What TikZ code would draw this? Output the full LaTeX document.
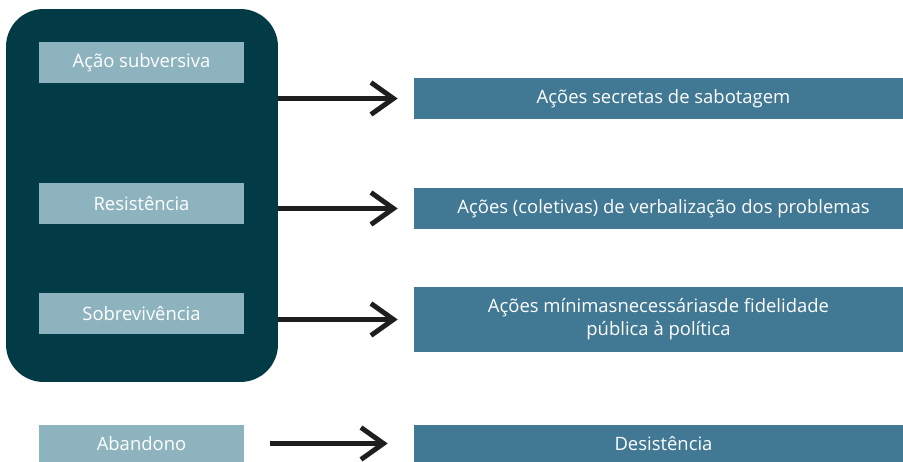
\documentclass[tikz,border=0pt]{standalone}
\usepackage{fontspec}
\setmainfont{Open Sans}
\usepackage{tikz}
\usepackage{xcolor}
\definecolor{tealdark}{RGB}{2, 58, 69}
\definecolor{teallight}{RGB}{141, 179, 190}
\definecolor{tealmid}{RGB}{65, 120, 148}
\definecolor{arrowblack}{RGB}{30, 30, 30}
\usetikzlibrary{positioning,arrows.meta,calc}

\begin{document}
\begin{tikzpicture}[x=0.02cm,y=-0.02cm,
    levelbox/.style={fill=teallight, text=white, minimum width=4.1cm, minimum height=0.82cm, inner sep=0pt, font=\fontsize{10.5}{13}\selectfont},
    actionbox/.style={fill=tealmid, text=white, minimum width=9.78cm, minimum height=0.82cm, inner sep=0pt, align=center, font=\fontsize{10.5}{13}\selectfont},
    bigarrow/.style={arrowblack, line width=2.8pt, -{Straight Barb[length=0.45cm,width=0.64cm,line width=2.8pt]}}]
    \useasboundingbox (0,0) rectangle (903,462);

    % Dark group behind the first three levels
    \node[fill=tealdark, rounded corners=0.75cm, minimum width=5.44cm, minimum height=7.46cm, inner sep=0pt] (grupo) at (142,195.5) {};

    % Levels (left)
    \node[levelbox] (subversiva) at (141.5,62.5) {Ação subversiva};
    \node[levelbox] (resistencia) at (141.5,203.5) {Resistência};
    \node[levelbox] (sobrevivencia) at (141.5,313.5) {Sobrevivência};
    \node[levelbox, minimum height=0.74cm] (abandono) at (141.5,443.5) {Abandono};

    % Actions (right)
    \node[actionbox] (secretas) at (658.5,98.5) {\hspace{0.2cm}Ações secretas de sabotagem};
    \node[actionbox] (coletivas) at (658.5,208.5) {\hspace{0.2cm}Ações (coletivas) de verbalização dos problemas};
    \node[actionbox, minimum height=1.3cm] (minimas) at (658.5,319.5) {Ações mínimasnecessáriasde fidelidade\\pública à política};
    \node[actionbox, minimum height=0.74cm] (desistencia) at (658.5,443.5) {\hspace{0.2cm}Desistência};

    % Arrows
    \draw[bigarrow] (secretas.west -| grupo.east) -- ([xshift=-0.32cm]secretas.west);
    \draw[bigarrow] (coletivas.west -| grupo.east) -- ([xshift=-0.32cm]coletivas.west);
    \draw[bigarrow] (minimas.west -| grupo.east) -- ([xshift=-0.32cm]minimas.west);
    \draw[bigarrow] ([xshift=0.52cm]abandono.east) -- ([xshift=-0.52cm]desistencia.west);
\end{tikzpicture}
\end{document}
